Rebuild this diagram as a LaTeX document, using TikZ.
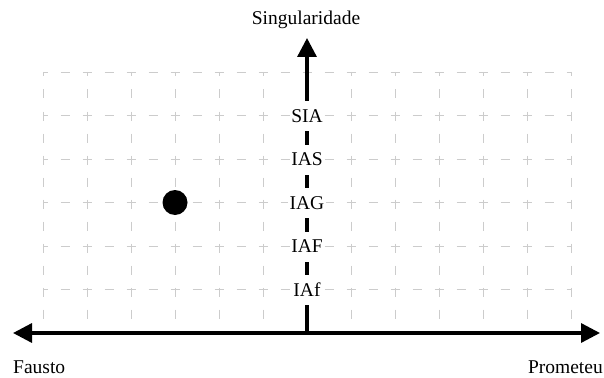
\documentclass[tikz,border=0pt]{standalone}
\usepackage{fontspec}
\setmainfont{Liberation Serif}
\usetikzlibrary{arrows.meta}
\begin{document}
\begin{tikzpicture}[x=1pt,y=-1pt,
  gridline/.style={draw=black!20,line width=0.8pt,dash pattern=on 9pt off 13pt,dash phase=4.5pt},
  axisline/.style={line width=3.3pt,-{Triangle[length=19pt,width=19pt]}},
  lbl/.style={font=\fontsize{19.5}{23}\selectfont},
  level/.style={lbl,fill=white,inner xsep=1.5pt,inner ysep=0pt,minimum height=30pt}]
\useasboundingbox (0,0) rectangle (604,377);
% grid
\foreach \y in {72,115.5,159,202.5,246,289.5}
  \draw[gridline] (43,\y) -- (571,\y);
\foreach \k in {0,...,12}
  \draw[gridline] (43+44*\k,72) -- (43+44*\k,333);
% axes
\coordinate (o) at (307,333);
\coordinate (top) at (307,38);
\coordinate (left) at (13,333);
\coordinate (right) at (600,333);
\draw[axisline] (o) -- (left);
\draw[axisline] (o) -- (right);
\draw[axisline] (o) -- (top);
% level labels
\node[level] (sia) at (307,116) {SIA};
\node[level] (ias) at (307,159.5) {IAS};
\node[level] (iag) at (307,203) {IAG};
\node[level] (iaf) at (307,246.5) {IAF};
\node[level] (iaff) at (307,290) {IAf};
% dot
\node[circle,fill=black,minimum size=25pt,inner sep=0pt] (dot) at (175,202.5) {};
% axis labels
\node[lbl,anchor=base,inner sep=0pt] (sing) at (306,25) {Singularidade};
\node[lbl,anchor=base west,inner sep=0pt] (fausto) at (13,373) {Fausto};
\node[lbl,anchor=base east,inner sep=0pt] (prom) at (603,373) {Prometeu};
\end{tikzpicture}
\end{document}
